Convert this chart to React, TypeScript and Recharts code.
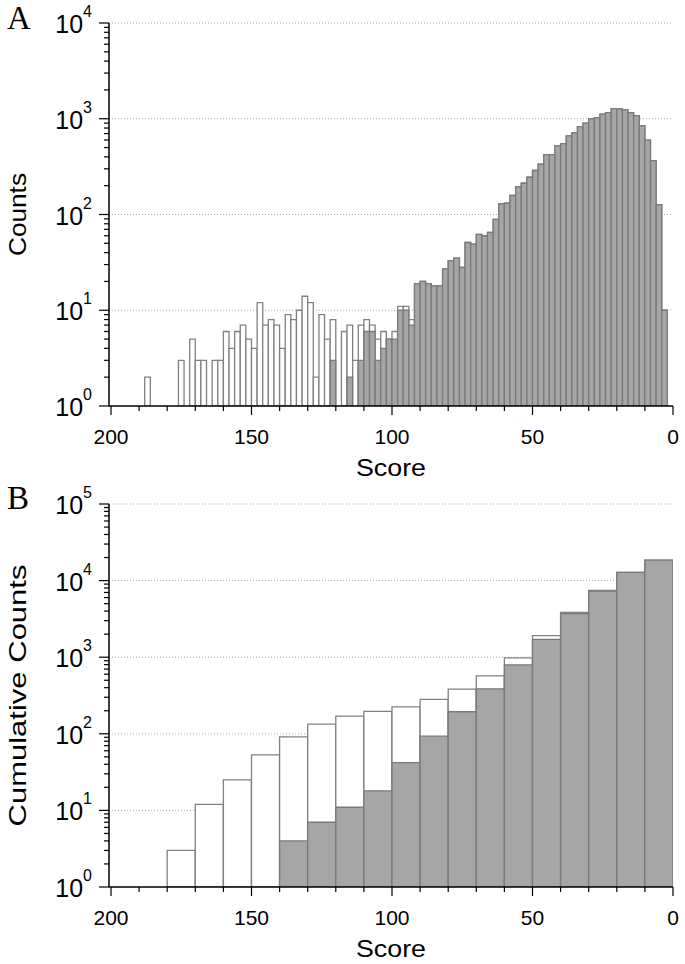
import { BarChart, Bar, XAxis, YAxis, CartesianGrid } from 'recharts';

// Panel A: counts per 2-point score bin, from score 200 down to 0
const openCountsA = [
  null, null, null, null, null, null, 2, null, null, null,
  null, null, 3, null, 5, 3, 3, null, 3, 3,
  6, 4, 6, 7, 5, 4, 12, 7, 8, 7,
  4, 9, 8, 10, 14, 12, 2, 9, 5, 8,
  null, 6, 7, 3, 7, 8, 7, 5, 6, 5,
  6, 11, 11, 8, 19, 20, 19, 18, 18, 27,
  33, 35, 28, 51, 49, 62, 60, 65, 89, 129,
  131, 158, 194, 212, 245, 288, 335, 423, 423, 521,
  551, 662, 712, 829, 898, 996, 1020, 1115, 1160, 1276,
  1267, 1237, 1160, 1079, 842, 597, 366, 127, 10, null,
];

const filledCountsA = [
  null, null, null, null, null, null, null, null, null, null,
  null, null, null, null, null, null, null, null, null, null,
  null, null, null, null, null, null, null, null, null, null,
  null, null, null, null, null, null, null, null, null, 3,
  null, null, 2, null, 3, 6, 6, 3, 4, 5,
  5, 10, 10, 7, 19, 20, 19, 18, 18, 27,
  33, 35, 28, 51, 49, 62, 60, 65, 89, 129,
  131, 158, 194, 212, 245, 288, 335, 423, 423, 521,
  551, 662, 712, 829, 898, 996, 1020, 1115, 1160, 1276,
  1267, 1237, 1160, 1079, 842, 597, 366, 127, 10, null,
];

// Panel B: cumulative counts per 10-point bin
const scoreBinsB = [195, 185, 175, 165, 155, 145, 135, 125, 115, 105, 95, 85, 75, 65, 55, 45, 35, 25, 15, 5];
const openCumulativeB = [null, null, 3, 12, 25, 53, 91, 134, 170, 196, 225, 281, 382, 570, 978, 1910, 3850, 7440, 12770, 18470];
const filledCumulativeB = [null, null, null, null, null, null, 4, 7, 11, 18, 42, 93, 194, 386, 793, 1713, 3700, 7300, 12770, 18470];

const scoreTicks = [200, 190, 180, 170, 160, 150, 140, 130, 120, 110, 100, 90, 80, 70, 60, 50, 40, 30, 20, 10, 0];
const decadesA = [1, 10, 100, 1000, 10000];
const decadesB = [1, 10, 100, 1000, 10000, 100000];

const scoreBinsA = openCountsA.map((_, i) => 199 - 2 * i);

const dataA = scoreBinsA.map((score, i) => ({ score, open: openCountsA[i], filled: filledCountsA[i] }));
const dataB = scoreBinsB.map((score, i) => ({ score, open: openCumulativeB[i], filled: filledCumulativeB[i] }));

const withMinor = (decades: number[]) => [
  ...decades.slice(0, -1).flatMap((d) => [1, 2, 3, 4, 5, 6, 7, 8, 9].map((m) => m * d)),
  decades[decades.length - 1],
];

const SANS = '"Liberation Sans", Arial, sans-serif';

function LogTick({ x, y, payload, decades }: any) {
  const major = decades.includes(payload.value);
  const exp = Math.round(Math.log10(payload.value));
  return (
    <g>
      <line x1={x - (major ? 10 : 5)} x2={x} y1={y} y2={y} stroke="#000" strokeWidth={1.2} />
      {major && (
        <text x={x - 17} y={y + 10} textAnchor="end" fontFamily={SANS} fontSize={25} fill="#000">
          10
          <tspan fontSize={16} dy={-16}>
            {exp}
          </tspan>
        </text>
      )}
    </g>
  );
}

function ScoreTick({ x, y, payload }: any) {
  const major = payload.value % 50 === 0;
  return (
    <g>
      <line x1={x} x2={x} y1={y} y2={y + (major ? 9 : 5)} stroke="#000" strokeWidth={1.2} />
      {major && (
        <text x={x} y={y + 38} textAnchor="middle" fontFamily={SANS} fontSize={21} fill="#000">
          {payload.value}
        </text>
      )}
    </g>
  );
}

function XTitle({ viewBox }: any) {
  return (
    <text
      x={viewBox.x + viewBox.width / 2}
      y={viewBox.y + 70}
      textAnchor="middle"
      fontFamily={SANS}
      fontSize={24}
      textLength={70}
      lengthAdjust="spacingAndGlyphs"
      fill="#000"
    >
      Score
    </text>
  );
}

function YTitle({ viewBox, text, length }: any) {
  const cx = 26;
  const cy = viewBox.y + viewBox.height / 2;
  return (
    <text
      x={cx}
      y={cy}
      transform={`rotate(-90 ${cx} ${cy})`}
      textAnchor="middle"
      fontFamily={SANS}
      fontSize={24}
      textLength={length}
      lengthAdjust="spacingAndGlyphs"
      fill="#000"
    >
      {text}
    </text>
  );
}

interface PanelProps {
  data: { score: number; open: number | null; filled: number | null }[];
  decades: number[];
  title: string;
  titleLength: number;
  barSize: number;
  height: number;
  marginTop: number;
  xAxisHeight: number;
}

function Panel({ data, decades, title, titleLength, barSize, height, marginTop, xAxisHeight }: PanelProps) {
  const axisProps = {
    type: 'number' as const,
    dataKey: 'score',
    domain: [0, 200],
    reversed: true,
    allowDataOverflow: true,
    padding: { left: 2, right: 0 },
  };
  return (
    <BarChart
      width={685}
      height={height}
      data={data}
      margin={{ top: marginTop, right: 12, bottom: 0, left: 0 }}
      barCategoryGap={0}
      barGap={0}
    >
      <CartesianGrid
        vertical={false}
        horizontalValues={decades.slice(1)}
        stroke="#a8a8a8"
        strokeDasharray="1 2"
      />
      <XAxis
        {...axisProps}
        ticks={scoreTicks}
        interval={0}
        height={xAxisHeight}
        tickSize={0}
        tickMargin={0}
        tick={<ScoreTick />}
        axisLine={{ stroke: '#000', strokeWidth: 1.5 }}
        tickLine={false}
        label={<XTitle />}
      />
      <XAxis {...axisProps} xAxisId="filled" hide />
      <YAxis
        scale="log"
        type="number"
        domain={[decades[0], decades[decades.length - 1]]}
        allowDataOverflow
        ticks={withMinor(decades)}
        interval={0}
        width={109}
        tickSize={0}
        tickMargin={0}
        tick={(p: any) => <LogTick {...p} decades={decades} />}
        axisLine={{ stroke: '#000', strokeWidth: 1.5 }}
        tickLine={false}
        label={<YTitle text={title} length={titleLength} />}
      />
      <Bar dataKey="open" fill="#ffffff" stroke="#808080" strokeWidth={1.3} barSize={barSize} isAnimationActive={false} />
      <Bar
        dataKey="filled"
        xAxisId="filled"
        fill="#a6a6a6"
        stroke="#7a7a7a"
        strokeWidth={1.3}
        barSize={barSize}
        isAnimationActive={false}
      />
    </BarChart>
  );
}

export default function App() {
  const letter = {
    position: 'absolute' as const,
    left: 7,
    fontFamily: '"Liberation Serif", "Times New Roman", serif',
    fontSize: 33,
    lineHeight: '33px',
  };
  return (
    <div style={{ position: 'absolute', left: 0, top: 0, width: 685, height: 964, background: '#fff' }}>
      <div style={{ position: 'absolute', left: 0, top: 480 }}>
        <Panel
          data={dataB}
          decades={decadesB}
          title="Cumulative Counts"
          titleLength={262}
          barSize={28}
          height={484}
          marginTop={24}
          xAxisHeight={77}
        />
      </div>
      <div style={{ position: 'absolute', left: 0, top: 0 }}>
        <Panel
          data={dataA}
          decades={decadesA}
          title="Counts"
          titleLength={83}
          barSize={5.6}
          height={492}
          marginTop={23}
          xAxisHeight={86}
        />
      </div>
      <div style={{ ...letter, top: 2 }}>A</div>
      <div style={{ ...letter, top: 482 }}>B</div>
    </div>
  );
}
